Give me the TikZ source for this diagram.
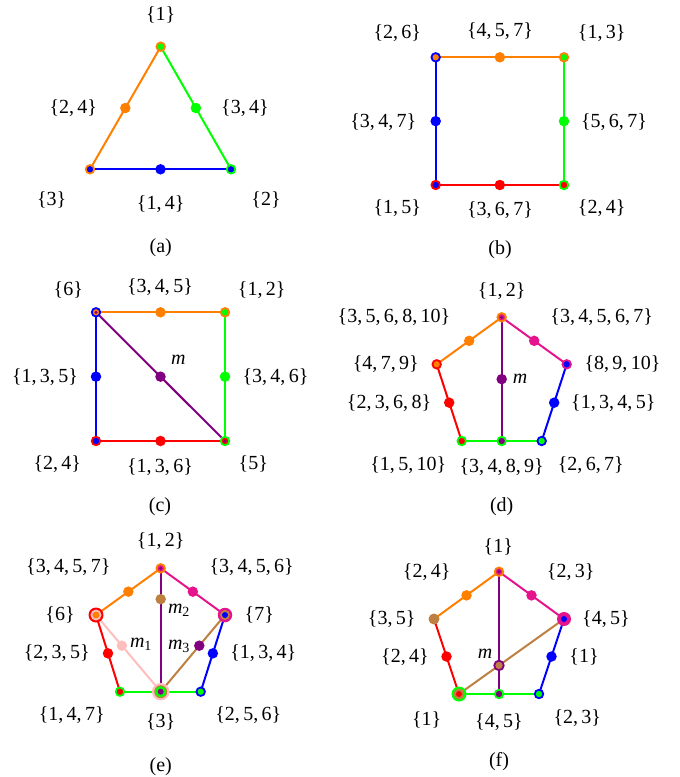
\documentclass[tikz,border=0pt]{standalone}
\usepackage{fontspec}
\setmainfont{Liberation Serif}
\usetikzlibrary{positioning}
\definecolor{vorange}{RGB}{255,128,0}
\definecolor{vgreen}{RGB}{0,255,0}
\definecolor{vblue}{RGB}{0,0,255}
\definecolor{vred}{RGB}{255,0,0}
\definecolor{vpink}{RGB}{230,20,140}
\definecolor{vpurple}{RGB}{128,0,128}
\definecolor{vbrown}{RGB}{190,128,64}
\definecolor{vlight}{RGB}{255,190,190}

\begin{document}
\begin{tikzpicture}[
    x=1pt, y=-1pt,
    font=\fontsize{20}{24}\selectfont,
    edge/.style={line width=2pt, draw=#1},
    mid/.style={circle, fill=#1, inner sep=0pt, minimum size=10.5pt},
    ring/.style={circle, draw=#1, line width=1.8pt, inner sep=0pt, minimum size=8.5pt},
    core/.style={circle, fill=#1, inner sep=0pt, minimum size=3.5pt},
    disk/.style={circle, fill=#1, inner sep=0pt}
]
    \useasboundingbox (0,0) rectangle (680,777);

    % (a) triangle
    \coordinate (a1) at (160.7,46.7);
    \coordinate (a2) at (231,169.3);
    \coordinate (a3) at (90,169.3);
    \draw[edge=vorange] (a1) -- node[mid=vorange] (a13) {} (a3);
    \draw[edge=vgreen] (a1) -- node[mid=vgreen] (a12) {} (a2);
    \draw[edge=vblue] (a3) -- node[mid=vblue] (a32) {} (a2);
    \node[ring=vorange, fill=vgreen] at (a1) {};
    \node[ring=vgreen, fill=vblue] at (a2) {};
    \node[ring=vorange, fill=vblue] at (a3) {};
    \node (la1) at (160.7,15) {\{1\}};
    \node (la2) at (266,200) {\{2\}};
    \node (la3) at (51.7,200) {\{3\}};
    \node (la13) at (73.3,108.3) {\{2,\,4\}};
    \node (la12) at (245,108.3) {\{3,\,4\}};
    \node (la32) at (160.7,204) {\{1,\,4\}};
    \node (capa) at (160.7,248) {(a)};

    % (b) square
    \coordinate (b1) at (435.7,57.3);
    \coordinate (b2) at (564,57.3);
    \coordinate (b3) at (564,185);
    \coordinate (b4) at (435.7,185);
    \draw[edge=vorange] (b1) -- node[mid=vorange] (b12) {} (b2);
    \draw[edge=vgreen] (b2) -- node[mid=vgreen] (b23) {} (b3);
    \draw[edge=vred] (b4) -- node[mid=vred] (b43) {} (b3);
    \draw[edge=vblue] (b1) -- node[mid=vblue] (b14) {} (b4);
    \node[ring=vblue, fill=vorange] at (b1) {};
    \node[ring=vorange, fill=vgreen] at (b2) {};
    \node[ring=vgreen, fill=vred] at (b3) {};
    \node[ring=vred, fill=vblue] at (b4) {};
    \node (lb1) at (397.3,33.3) {\{2,\,6\}};
    \node (lb12) at (500,30.7) {\{4,\,5,\,7\}};
    \node (lb2) at (601.7,33.3) {\{1,\,3\}};
    \node (lb14) at (383.3,121.7) {\{3,\,4,\,7\}};
    \node (lb23) at (614,121.7) {\{5,\,6,\,7\}};
    \node (lb4) at (397.3,208.3) {\{1,\,5\}};
    \node (lb43) at (500,210) {\{3,\,6,\,7\}};
    \node (lb3) at (601.7,208.3) {\{2,\,4\}};
    \node (capb) at (500,250) {(b)};

    % (c) square with diagonal
    \coordinate (c1) at (96,312.3);
    \coordinate (c2) at (225,312.3);
    \coordinate (c3) at (225,441);
    \coordinate (c4) at (96,441);
    \draw[edge=vorange] (c1) -- node[mid=vorange] (c12) {} (c2);
    \draw[edge=vgreen] (c2) -- node[mid=vgreen] (c23) {} (c3);
    \draw[edge=vred] (c4) -- node[mid=vred] (c43) {} (c3);
    \draw[edge=vblue] (c1) -- node[mid=vblue] (c14) {} (c4);
    \draw[edge=vpurple] (c1) -- node[mid=vpurple] (cm) {} (c3);
    \node[ring=vblue, fill=vorange] (c1v) at (c1) {};
    \node[core=vpurple] at (c1v) {};
    \node[ring=vorange, fill=vgreen] at (c2) {};
    \node[ring=vgreen, fill=vred] (c3v) at (c3) {};
    \node[core=vpurple] at (c3v) {};
    \node[ring=vred, fill=vblue] at (c4) {};
    \node (lc1) at (68.3,290) {\{6\}};
    \node (lc12) at (160,286.7) {\{3,\,4,\,5\}};
    \node (lc2) at (261.7,290) {\{1,\,2\}};
    \node (lc14) at (45,376.7) {\{1,\,3,\,5\}};
    \node (lc23) at (275.5,376.7) {\{3,\,4,\,6\}};
    \node (lcm) at (178.3,360) {\textit{m}};
    \node (lc4) at (57.3,464) {\{2,\,4\}};
    \node (lc43) at (160,466.7) {\{1,\,3,\,6\}};
    \node (lc3) at (253.3,464) {\{5\}};
    \node (capc) at (160,506.7) {(c)};

    % (d) pentagon
    \coordinate (d1) at (501.7,317.3);
    \coordinate (d2) at (566.7,364.3);
    \coordinate (d3) at (541.7,441);
    \coordinate (d4) at (501.7,441);
    \coordinate (d5) at (461.7,441);
    \coordinate (d6) at (436.7,364.3);
    \draw[edge=vorange] (d1) -- node[mid=vorange] (d16) {} (d6);
    \draw[edge=vpink] (d1) -- node[mid=vpink] (d12) {} (d2);
    \draw[edge=vred] (d6) -- node[mid=vred] (d65) {} (d5);
    \draw[edge=vblue] (d2) -- node[mid=vblue] (d23) {} (d3);
    \draw[edge=vgreen] (d5) -- (d3);
    \draw[edge=vpurple] (d1) -- node[mid=vpurple] (dm) {} (d4);
    \node[ring=vorange, fill=vpink] (d1v) at (d1) {};
    \node[core=vpurple] at (d1v) {};
    \node[ring=vpink, fill=vblue] at (d2) {};
    \node[ring=vblue, fill=vgreen] at (d3) {};
    \node[ring=vgreen, fill=vpurple] at (d4) {};
    \node[ring=vgreen, fill=vred] at (d5) {};
    \node[ring=vred, fill=vorange] at (d6) {};
    \node (ld1) at (501.7,290.7) {\{1,\,2\}};
    \node (ld16) at (394,316.7) {\{3,\,5,\,6,\,8,\,10\}};
    \node (ld12) at (601.7,316.7) {\{3,\,4,\,5,\,6,\,7\}};
    \node (ld6) at (385.8,364.3) {\{4,\,7,\,9\}};
    \node (ld2) at (622.5,364.3) {\{8,\,9,\,10\}};
    \node (ld65) at (389,403.3) {\{2,\,3,\,6,\,8\}};
    \node (ld23) at (613.3,403.3) {\{1,\,3,\,4,\,5\}};
    \node (ldm) at (520,379) {\textit{m}};
    \node (ld5) at (408.3,465) {\{1,\,5,\,10\}};
    \node (ld4) at (501.7,466.7) {\{3,\,4,\,8,\,9\}};
    \node (ld3) at (590.8,465) {\{2,\,6,\,7\}};
    \node (capd) at (501.7,506.7) {(d)};

    % (e) pentagon with three chords
    \coordinate (e1) at (160.7,568.3);
    \coordinate (e2) at (225,615);
    \coordinate (e3) at (200.7,691.7);
    \coordinate (e4) at (160.7,691.7);
    \coordinate (e5) at (120,691.7);
    \coordinate (e6) at (96,615);
    \draw[edge=vorange] (e1) -- node[mid=vorange] (e16) {} (e6);
    \draw[edge=vpink] (e1) -- node[mid=vpink] (e12) {} (e2);
    \draw[edge=vred] (e6) -- node[mid=vred] (e65) {} (e5);
    \draw[edge=vblue] (e2) -- node[mid=vblue] (e23) {} (e3);
    \draw[edge=vgreen] (e5) -- (e3);
    \draw[edge=vlight] (e6) -- node[pos=0.4, mid=vlight] (em1) {} (e4);
    \draw[edge=vpurple] (e1) -- node[pos=0.25, mid=vbrown] (em2) {} (e4);
    \draw[edge=vbrown] (e2) -- node[pos=0.4, mid=vpurple] (em3) {} (e4);
    \node[ring=vorange, fill=vpink] (e1v) at (e1) {};
    \node[core=vpurple] at (e1v) {};
    \node[disk=vpink, minimum size=14.5pt] (e2v) at (e2) {};
    \node[disk=vbrown, minimum size=10pt] at (e2v) {};
    \node[disk=vblue, minimum size=6pt] at (e2v) {};
    \node[ring=vblue, fill=vgreen] at (e3) {};
    \node[disk=vlight, minimum size=17.5pt] (e4v) at (e4) {};
    \node[disk=vbrown, minimum size=13pt] at (e4v) {};
    \node[disk=vgreen, minimum size=11pt] at (e4v) {};
    \node[disk=vpurple, minimum size=6pt] at (e4v) {};
    \node[ring=vgreen, fill=vred] at (e5) {};
    \node[disk=vred, minimum size=15pt] (e6v) at (e6) {};
    \node[disk=vlight, minimum size=11pt] at (e6v) {};
    \node[disk=vorange, minimum size=7pt] at (e6v) {};
    \node (le1) at (160.7,540.7) {\{1,\,2\}};
    \node (le16) at (68.3,566.7) {\{3,\,4,\,5,\,7\}};
    \node (le12) at (251.7,566.7) {\{3,\,4,\,5,\,6\}};
    \node (le6) at (60,615) {\{6\}};
    \node (le2) at (259.3,615) {\{7\}};
    \node (le65) at (56.7,653.3) {\{2,\,3,\,5\}};
    \node (le23) at (263.3,653.3) {\{1,\,3,\,4\}};
    \node (lem1) at (141,644) {\textit{m}\textsubscript{1}};
    \node (lem2) at (179,610.7) {\textit{m}\textsubscript{2}};
    \node (lem3) at (179,646) {\textit{m}\textsubscript{3}};
    \node (le5) at (71.7,715) {\{1,\,4,\,7\}};
    \node (le4) at (160.7,721.7) {\{3\}};
    \node (le3) at (248.3,715) {\{2,\,5,\,6\}};
    \node (cape) at (160.7,766.7) {(e)};

    % (f) pentagon with crossing chords
    \coordinate (f1) at (499,571.7);
    \coordinate (f2) at (564,619);
    \coordinate (f3) at (539,694);
    \coordinate (f4) at (499,694);
    \coordinate (f5) at (459,694);
    \coordinate (f6) at (434,619);
    \draw[edge=vorange] (f1) -- node[mid=vorange] (f16) {} (f6);
    \draw[edge=vpink] (f1) -- node[mid=vpink] (f12) {} (f2);
    \draw[edge=vred] (f6) -- node[mid=vred] (f65) {} (f5);
    \draw[edge=vblue] (f2) -- node[mid=vblue] (f23) {} (f3);
    \draw[edge=vgreen] (f5) -- (f3);
    \draw[edge=vpurple] (f1) -- (f4);
    \draw[edge=vbrown] (f5) -- coordinate[pos=0.381] (fm) (f2);
    \node[ring=vpurple, fill=vbrown, minimum size=9.5pt] at (fm) {};
    \node[ring=vorange, fill=vpink] (f1v) at (f1) {};
    \node[core=vpurple] at (f1v) {};
    \node[disk=vpink, minimum size=14pt] (f2v) at (f2) {};
    \node[disk=vblue, minimum size=6pt] at (f2v) {};
    \node[ring=vblue, fill=vgreen] at (f3) {};
    \node[ring=vgreen, fill=vpurple] at (f4) {};
    \node[disk=vgreen, minimum size=15pt] (f5v) at (f5) {};
    \node[disk=vbrown, minimum size=11pt] at (f5v) {};
    \node[disk=vred, minimum size=6pt] at (f5v) {};
    \node[disk=vbrown, minimum size=11pt] at (f6) {};
    \node (lf1) at (498.3,546.7) {\{1\}};
    \node (lf16) at (426.7,571.7) {\{2,\,4\}};
    \node (lf12) at (570.7,571.7) {\{2,\,3\}};
    \node (lf6) at (391.7,619) {\{3,\,5\}};
    \node (lf2) at (606,619) {\{4,\,5\}};
    \node (lf65) at (405,656.7) {\{2,\,4\}};
    \node (lfm) at (485,653.3) {\textit{m}};
    \node (lf23) at (584,656.7) {\{1\}};
    \node (lf5) at (426.7,720) {\{1\}};
    \node (lf4) at (499,721.7) {\{4,\,5\}};
    \node (lf3) at (577.3,718.3) {\{2,\,3\}};
    \node (capf) at (499,761.7) {(f)};
\end{tikzpicture}
\end{document}
